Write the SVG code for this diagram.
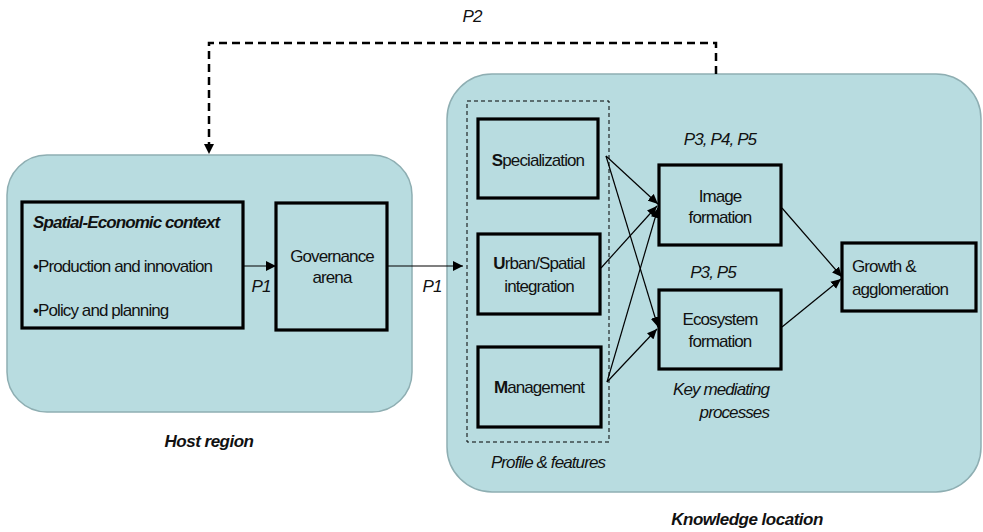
<svg xmlns="http://www.w3.org/2000/svg" width="983" height="532" viewBox="0 0 983 532">
<defs>
<style>
.region{fill:#b8dce0;stroke:#8eaeb2;stroke-width:1.5}
.box{fill:#b8dce0;stroke:#000;stroke-width:3.2}
.t{font-family:"Liberation Sans",Arial,sans-serif;font-size:17px;letter-spacing:-0.9px;fill:#111}
.c{text-anchor:middle}
.i{font-style:italic}
.b{font-weight:bold}
.lbl{font-family:"Liberation Sans",Arial,sans-serif;font-size:17px;letter-spacing:-0.5px;font-weight:bold;font-style:italic;fill:#111;text-anchor:middle}
.ln{fill:none;stroke:#000;stroke-width:1.2}
</style>
<marker id="ah" viewBox="0 0 10 10" refX="10" refY="5" markerWidth="10" markerHeight="10" markerUnits="userSpaceOnUse" orient="auto">
<path d="M0,0 L10,5 L0,10 z" fill="#000"/>
</marker>
<marker id="ah2" viewBox="0 0 10 10" refX="10" refY="5" markerWidth="10" markerHeight="10" markerUnits="userSpaceOnUse" orient="auto">
<path d="M0,0.5 L10,5 L0,9.5 z" fill="#000"/>
</marker>
</defs>
<rect width="983" height="532" fill="#fff"/>

<g id="host-region">
<rect class="region" x="7" y="155" width="405" height="257" rx="40" ry="40"/>
<text class="lbl" x="209" y="447">Host region</text>
</g>
<g id="knowledge-location">
<rect class="region" x="447" y="74" width="534" height="418" rx="45" ry="45"/>
<text class="lbl" x="747" y="525">Knowledge location</text>
</g>
<g id="profile-features">
<rect x="467" y="101" width="142" height="341" fill="none" stroke="#000" stroke-width="1" stroke-dasharray="4 3"/>
<text class="t i" x="548" y="468" text-anchor="middle">Profile &amp; features</text>
</g>

<g id="spatial-economic-context">
<rect class="box" x="22" y="202" width="221" height="126"/>
<text class="t b i" x="33" y="228">Spatial-Economic context</text>
<text class="t" x="33" y="272">•Production and innovation</text>
<text class="t" x="33" y="316">•Policy and planning</text>
</g>
<g id="governance-arena">
<rect class="box" x="276" y="203" width="111" height="127"/>
<text class="t c" x="332" y="262">Governance</text>
<text class="t c" x="332" y="283">arena</text>
</g>
<g id="specialization">
<rect class="box" x="478" y="119" width="120" height="79"/>
<text class="t c" x="538" y="166"><tspan class="b">S</tspan>pecialization</text>
</g>
<g id="urban-spatial-integration">
<rect class="box" x="478" y="234" width="122" height="80"/>
<text class="t c" x="539" y="269"><tspan class="b">U</tspan>rban/Spatial</text>
<text class="t c" x="539" y="292">integration</text>
</g>
<g id="management">
<rect class="box" x="478" y="347" width="123" height="80"/>
<text class="t c" x="539" y="393"><tspan class="b">M</tspan>anagement</text>
</g>
<g id="image-formation">
<rect class="box" x="659" y="165" width="122" height="80"/>
<text class="t c" x="720" y="202">Image</text>
<text class="t c" x="720" y="223">formation</text>
<text class="t i c" x="720" y="145">P3, P4, P5</text>
</g>
<g id="ecosystem-formation">
<rect class="box" x="659" y="290" width="122" height="79"/>
<text class="t c" x="720" y="325">Ecosystem</text>
<text class="t c" x="720" y="347">formation</text>
<text class="t i c" x="713" y="278">P3, P5</text>
<text class="t i" x="769" y="395" text-anchor="end">Key mediating</text>
<text class="t i" x="769" y="418" text-anchor="end">processes</text>
</g>
<g id="growth-agglomeration">
<rect class="box" x="842" y="243" width="134" height="68"/>
<text class="t" x="852" y="272">Growth &amp;</text>
<text class="t" x="852" y="295">agglomeration</text>
</g>

<g id="connectors">
<line class="ln" x1="243" y1="266" x2="276" y2="266" marker-end="url(#ah)"/>
<line class="ln" x1="387" y1="266" x2="463" y2="266" marker-end="url(#ah)"/>
<line class="ln" x1="606" y1="156" x2="658" y2="204" marker-end="url(#ah2)"/>
<line class="ln" x1="606" y1="156" x2="658" y2="327" marker-end="url(#ah2)"/>
<line class="ln" x1="601" y1="268" x2="657" y2="206" marker-end="url(#ah2)"/>
<line class="ln" x1="607" y1="382" x2="658" y2="208" marker-end="url(#ah2)"/>
<line class="ln" x1="607" y1="382" x2="657" y2="329" marker-end="url(#ah2)"/>
<line class="ln" x1="782" y1="208" x2="842" y2="277" marker-end="url(#ah2)"/>
<line class="ln" x1="782" y1="327" x2="841" y2="279" marker-end="url(#ah2)"/>
<path d="M716,74 L716,43 L209,43 L209,154" fill="none" stroke="#000" stroke-width="2.5" stroke-dasharray="8 5" marker-end="url(#ah)"/>
<text class="t i" x="261" y="292" text-anchor="middle">P1</text>
<text class="t i" x="432" y="292" text-anchor="middle">P1</text>
<text class="t i" x="472" y="22" text-anchor="middle">P2</text>
</g>
</svg>
